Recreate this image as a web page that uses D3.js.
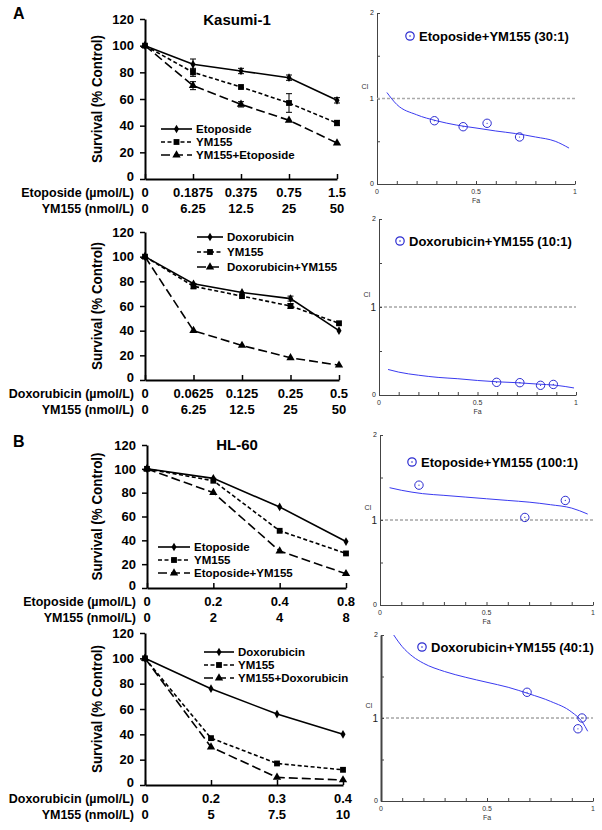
<!DOCTYPE html>
<html><head><meta charset="utf-8">
<script src="https://cdn.jsdelivr.net/npm/d3@7"></script>
<style>body{margin:0;background:#fff;} svg{display:block;font-family:"Liberation Sans",Arial,sans-serif;}</style>
</head><body><svg id="c" width="602" height="830"></svg>
<script>
// ---------- DATA ----------
const yTicks = [0, 20, 40, 60, 80, 100, 120];

// Panel A top: Kasumi-1, Etoposide
const a1Drug = ["0", "0.1875", "0.375", "0.75", "1.5"];
const a1YM = ["0", "6.25", "12.5", "25", "50"];
const a1Names = ["Etoposide", "YM155", "YM155+Etoposide"];
const a1Eto = [100, 86, 81, 76, 59];
const a1EtoErr = [1, 4, 2, 2, 2];
const a1YMv = [100, 80, 69, 57, 42];
const a1YMErr = [1, 3, 1, 7, 2];
const a1Combo = [100, 70, 56, 44, 27];
const a1ComboErr = [1, 3, 2, 1, 1];

// Panel A bottom: Kasumi-1, Doxorubicin
const a2Drug = ["0", "0.0625", "0.125", "0.25", "0.5"];
const a2YM = ["0", "6.25", "12.5", "25", "50"];
const a2Names = ["Doxorubicin", "YM155", "Doxorubicin+YM155"];
const a2Dox = [100, 78, 71, 66, 40];
const a2DoxErr = [1, 1, 1, 2, 1];
const a2YMv = [100, 76, 68, 60, 46];
const a2YMErr = [1, 2, 1, 2, 1];
const a2Combo = [100, 40, 28, 18, 12];
const a2ComboErr = [1, 1, 1, 1, 1];

// Panel B top: HL-60, Etoposide
const b1Drug = ["0", "0.2", "0.4", "0.8"];
const b1YM = ["0", "2", "4", "8"];
const b1Names = ["Etoposide", "YM155", "Etoposide+YM155"];
const b1Eto = [100, 92, 68, 39];
const b1EtoErr = [1, 1, 1, 1];
const b1YMv = [100, 90, 48, 29];
const b1YMErr = [1, 1, 1, 1];
const b1Combo = [100, 80, 31, 12];
const b1ComboErr = [1, 1, 1, 1];

// Panel B bottom: HL-60, Doxorubicin
const b2Drug = ["0", "0.2", "0.3", "0.4"];
const b2YM = ["0", "5", "7.5", "10"];
const b2Names = ["Doxorubicin", "YM155", "YM155+Doxorubicin"];
const b2Dox = [100, 76, 56, 40];
const b2DoxErr = [1, 1, 1, 1];
const b2YMv = [100, 37, 17, 12];
const b2YMErr = [1, 1, 1, 1];
const b2Combo = [100, 30, 6, 4];
const b2ComboErr = [1, 1, 1, 1];

// CI plots (Fa vs CI)
const ciA1Fa = [0.29, 0.435, 0.556, 0.72];
const ciA1 = [0.74, 0.67, 0.71, 0.55];
const ciA1CurveFa = [0.05, 0.1, 0.2, 0.3, 0.4, 0.5, 0.6, 0.7, 0.8, 0.9, 0.97];
const ciA1Curve = [1.07, 0.93, 0.81, 0.74, 0.69, 0.655, 0.62, 0.59, 0.55, 0.50, 0.42];

const ciA2Fa = [0.597, 0.715, 0.82, 0.885];
const ciA2 = [0.144, 0.14, 0.11, 0.12];
const ciA2CurveFa = [0.046, 0.1, 0.2, 0.3, 0.4, 0.5, 0.6, 0.7, 0.8, 0.9, 0.99];
const ciA2Curve = [0.29, 0.26, 0.225, 0.20, 0.185, 0.165, 0.15, 0.14, 0.125, 0.11, 0.08];

const ciB1Fa = [0.183, 0.68, 0.87];
const ciB1 = [1.41, 1.03, 1.23];
const ciB1CurveFa = [0.045, 0.1, 0.2, 0.3, 0.4, 0.5, 0.6, 0.7, 0.8, 0.9, 0.975];
const ciB1Curve = [1.38, 1.35, 1.31, 1.29, 1.27, 1.25, 1.23, 1.21, 1.18, 1.14, 1.07];

const ciB2Fa = [0.689, 0.948, 0.929];
const ciB2 = [1.31, 1.0, 0.87];
const ciB2CurveFa = [0.06, 0.1, 0.15, 0.2, 0.3, 0.4, 0.5, 0.6, 0.7, 0.8, 0.9, 0.95, 0.975];
const ciB2Curve = [2.0, 1.86, 1.74, 1.66, 1.56, 1.49, 1.43, 1.37, 1.29, 1.20, 1.07, 0.95, 0.84];

// ---------- DRAWING ----------
const svg = d3.select("#c");
const styles = [
  {dash: null, sym: d3.symbolDiamond, size: 22},
  {dash: "4,2.5", sym: d3.symbolSquare, size: 34},
  {dash: "9,4", sym: d3.symbolTriangle, size: 30}
];

function linePanel(o) {
  const g = svg.append("g");
  const idx = o.drug.map((d, i) => i);
  const x = d3.scalePoint().domain(idx).range([o.x0, o.x1]);
  const y = d3.scaleLinear().domain([0, 120]).range([o.yb, o.yt]);

  const ya = g.append("g").attr("transform", `translate(${o.x0},0)`)
    .call(d3.axisLeft(y).tickValues(yTicks).tickSize(5).tickSizeOuter(0).tickPadding(6));
  ya.select(".domain").attr("stroke-width", 2);
  ya.selectAll(".tick line").attr("stroke-width", 1.5);
  ya.selectAll("text").attr("font-size", 13).attr("font-weight", "bold").attr("fill", "#000");
  ya.selectAll(".tick").filter(d => d === 0).select("text").attr("dy", "0.1em");

  const xa = g.append("g").attr("transform", `translate(0,${o.yb})`)
    .call(d3.axisBottom(x).tickSize(-5).tickSizeOuter(0).tickFormat(""));
  xa.select(".domain").attr("stroke-width", 2);
  xa.selectAll(".tick line").attr("stroke-width", 1.5);

  // x label rows
  const rows = [[o.drugTitle, o.drug, 18], [o.ymTitle, o.ym, 34]];
  rows.forEach(([t, labs, dy]) => {
    g.append("text").attr("x", o.x0 - 11).attr("y", o.yb + dy).attr("text-anchor", "end")
      .attr("font-size", 12.5).attr("font-weight", "bold").text(t);
    g.selectAll(null).data(labs).enter().append("text")
      .attr("x", (d, i) => x(i)).attr("y", o.yb + dy).attr("text-anchor", "middle")
      .attr("font-size", 13).attr("font-weight", "bold").text(d => d);
  });

  // y title
  const cy = (o.yb + o.yt) / 2;
  g.append("text").attr("transform", `translate(${o.titleX},${cy}) rotate(-90)`)
    .attr("text-anchor", "middle").attr("font-size", 14).attr("font-weight", "bold")
    .attr("textLength", 128).attr("lengthAdjust", "spacingAndGlyphs")
    .text("Survival (% Control)");

  // series
  o.series.forEach((s, k) => {
    const st = styles[k];
    const line = d3.line().x((d, i) => x(i)).y(d => y(d));
    g.append("path").attr("d", line(s.v)).attr("fill", "none").attr("stroke", "#000")
      .attr("stroke-width", 1.6).attr("stroke-dasharray", st.dash);
    // error bars
    s.v.forEach((v, i) => {
      const e = s.e[i];
      if (e <= 1) return;
      const xx = x(i);
      g.append("line").attr("x1", xx).attr("x2", xx).attr("y1", y(v - e)).attr("y2", y(v + e)).attr("stroke", "#000").attr("stroke-width", 1);
      [v - e, v + e].forEach(w => g.append("line").attr("x1", xx - 3).attr("x2", xx + 3).attr("y1", y(w)).attr("y2", y(w)).attr("stroke", "#000").attr("stroke-width", 1));
    });
    g.selectAll(null).data(s.v).enter().append("path")
      .attr("d", d3.symbol().type(st.sym).size(st.size))
      .attr("transform", (d, i) => `translate(${x(i)},${y(d)})`).attr("fill", "#000");
    // legend
    const ly = o.leg.y + k * o.leg.dy;
    g.append("line").attr("x1", o.leg.x).attr("x2", o.leg.x + o.leg.w).attr("y1", ly).attr("y2", ly)
      .attr("stroke", "#000").attr("stroke-width", 1.6).attr("stroke-dasharray", st.dash);
    g.append("path").attr("d", d3.symbol().type(st.sym).size(st.size)())
      .attr("transform", `translate(${o.leg.x + o.leg.w / 2},${ly})`).attr("fill", "#000");
    g.append("text").attr("x", o.leg.x + o.leg.w + 4).attr("y", ly + 4).attr("font-size", 11.5)
      .attr("font-weight", "bold").text(s.name);
  });

  if (o.title) g.append("text").attr("x", o.title.x).attr("y", o.title.y).attr("text-anchor", "middle")
    .attr("font-size", 15).attr("font-weight", "bold").text(o.title.t);
}

function ciPanel(o) {
  const g = svg.append("g");
  const x = d3.scaleLinear().domain([0, 1]).range([o.x0, o.x1]);
  const y = d3.scaleLinear().domain([0, 2]).range([o.yb, o.yt]);
  const ax = "#444";
  const xa = g.append("g").attr("transform", `translate(0,${o.yb})`)
    .call(d3.axisBottom(x).tickValues(d3.range(0, 11).map(i => i / 10)).tickSize(-3).tickSizeOuter(0).tickFormat(""));
  xa.selectAll("path,line").attr("stroke", ax);
  const ya = g.append("g").attr("transform", `translate(${o.x0},0)`)
    .call(d3.axisLeft(y).tickValues([0, 0.5, 1, 1.5, 2]).tickSize(-3).tickSizeOuter(0).tickFormat(""));
  ya.selectAll("path,line").attr("stroke", ax);
  ya.select(".domain").attr("stroke-width", o.yw || 1);

  [0, 0.5, 1].forEach(v => g.append("text").attr("x", x(v)).attr("y", o.yb + 10).attr("text-anchor", "middle")
    .attr("font-size", 7).attr("fill", "#333").text(v));
  g.append("text").attr("x", x(0.5)).attr("y", o.yb + 19).attr("text-anchor", "middle")
    .attr("font-size", 7).attr("fill", "#333").text("Fa");
  [[0, 7], [2, 7], [1, o.oneSize]].forEach(([v, fs]) => g.append("text").attr("x", o.x0 - 3).attr("y", y(v) + fs * 0.35)
    .attr("text-anchor", "end").attr("font-size", fs).attr("fill", "#222").text(v));
  g.append("text").attr("x", o.x0 - 12).attr("y", y(1) - 10).attr("text-anchor", "middle")
    .attr("font-size", 7).attr("fill", "#333").text("CI");

  g.append("line").attr("x1", o.x0).attr("x2", o.x1).attr("y1", y(1)).attr("y2", y(1))
    .attr("stroke", o.dashCol || "#555").attr("stroke-width", o.dashW || 0.8).attr("stroke-dasharray", "3,2");

  const pts = o.cfa.map((f, i) => [f, o.cci[i]]);
  g.append("path").attr("d", d3.line().x(d => x(d[0])).y(d => y(d[1])).curve(d3.curveMonotoneX)(pts))
    .attr("fill", "none").attr("stroke", "#3a3af0").attr("stroke-width", 1);

  const blue = "#2b2bd0";
  o.fa.forEach((f, i) => {
    g.append("circle").attr("cx", x(f)).attr("cy", y(o.ci[i])).attr("r", 4.2)
      .attr("fill", "none").attr("stroke", blue).attr("stroke-width", 1);
    g.append("circle").attr("cx", x(f)).attr("cy", y(o.ci[i])).attr("r", 0.6).attr("fill", blue);
  });
  g.append("circle").attr("cx", o.leg.x).attr("cy", o.leg.y).attr("r", 4.2)
    .attr("fill", "none").attr("stroke", blue).attr("stroke-width", 1.2);
  g.append("circle").attr("cx", o.leg.x).attr("cy", o.leg.y).attr("r", 0.8).attr("fill", blue);
  g.append("text").attr("x", o.leg.x + 9).attr("y", o.leg.y + 5).attr("font-size", 13)
    .attr("font-weight", "bold").text(o.leg.t);
}

// panel letters
svg.append("text").attr("x", 13).attr("y", 19).attr("font-size", 16).attr("font-weight", "bold").text("A");
svg.append("text").attr("x", 13).attr("y", 447).attr("font-size", 16).attr("font-weight", "bold").text("B");

linePanel({x0: 145, x1: 337, yb: 179, yt: 19, titleX: 102, drug: a1Drug, ym: a1YM,
  drugTitle: "Etoposide (µmol/L)", ymTitle: "YM155 (nmol/L)",
  series: [{name: a1Names[0], v: a1Eto, e: a1EtoErr}, {name: a1Names[1], v: a1YMv, e: a1YMErr}, {name: a1Names[2], v: a1Combo, e: a1ComboErr}],
  leg: {x: 161, w: 31, y: 129, dy: 13}, title: {x: 237, y: 25, t: "Kasumi-1"}});

linePanel({x0: 145, x1: 339, yb: 380, yt: 232, titleX: 102, drug: a2Drug, ym: a2YM,
  drugTitle: "Doxorubicin (µmol/L)", ymTitle: "YM155 (nmol/L)",
  series: [{name: a2Names[0], v: a2Dox, e: a2DoxErr}, {name: a2Names[1], v: a2YMv, e: a2YMErr}, {name: a2Names[2], v: a2Combo, e: a2ComboErr}],
  leg: {x: 197, w: 26, y: 237, dy: 15}});

linePanel({x0: 147, x1: 346, yb: 588, yt: 445, titleX: 102, drug: b1Drug, ym: b1YM,
  drugTitle: "Etoposide (µmol/L)", ymTitle: "YM155 (nmol/L)",
  series: [{name: b1Names[0], v: b1Eto, e: b1EtoErr}, {name: b1Names[1], v: b1YMv, e: b1YMErr}, {name: b1Names[2], v: b1Combo, e: b1ComboErr}],
  leg: {x: 158, w: 32, y: 547, dy: 13}, title: {x: 237, y: 450, t: "HL-60"}});

linePanel({x0: 145, x1: 343, yb: 785, yt: 633, titleX: 102, drug: b2Drug, ym: b2YM,
  drugTitle: "Doxorubicin (µmol/L)", ymTitle: "YM155 (nmol/L)",
  series: [{name: b2Names[0], v: b2Dox, e: b2DoxErr}, {name: b2Names[1], v: b2YMv, e: b2YMErr}, {name: b2Names[2], v: b2Combo, e: b2ComboErr}],
  leg: {x: 204, w: 30, y: 652, dy: 13}});

ciPanel({x0: 377, x1: 575, yb: 184, yt: 13, oneSize: 8, fa: ciA1Fa, ci: ciA1, cfa: ciA1CurveFa, cci: ciA1Curve,
  dashCol: "#aaa", dashW: 1.6, leg: {x: 410, y: 36, t: "Etoposide+YM155 (30:1)"}});
ciPanel({x0: 379, x1: 576, yb: 395, yt: 219, oneSize: 10, fa: ciA2Fa, ci: ciA2, cfa: ciA2CurveFa, cci: ciA2Curve,
  leg: {x: 400, y: 241, t: "Doxorubicin+YM155 (10:1)"}});
ciPanel({x0: 380, x1: 593, yb: 605, yt: 435, oneSize: 10, fa: ciB1Fa, ci: ciB1, cfa: ciB1CurveFa, cci: ciB1Curve,
  leg: {x: 412, y: 462, t: "Etoposide+YM155 (100:1)"}});
ciPanel({x0: 381, x1: 593, yb: 801, yt: 635, oneSize: 10, yw: 2, fa: ciB2Fa, ci: ciB2, cfa: ciB2CurveFa, cci: ciB2Curve,
  leg: {x: 422, y: 647, t: "Doxorubicin+YM155 (40:1)"}});
</script></body></html>
